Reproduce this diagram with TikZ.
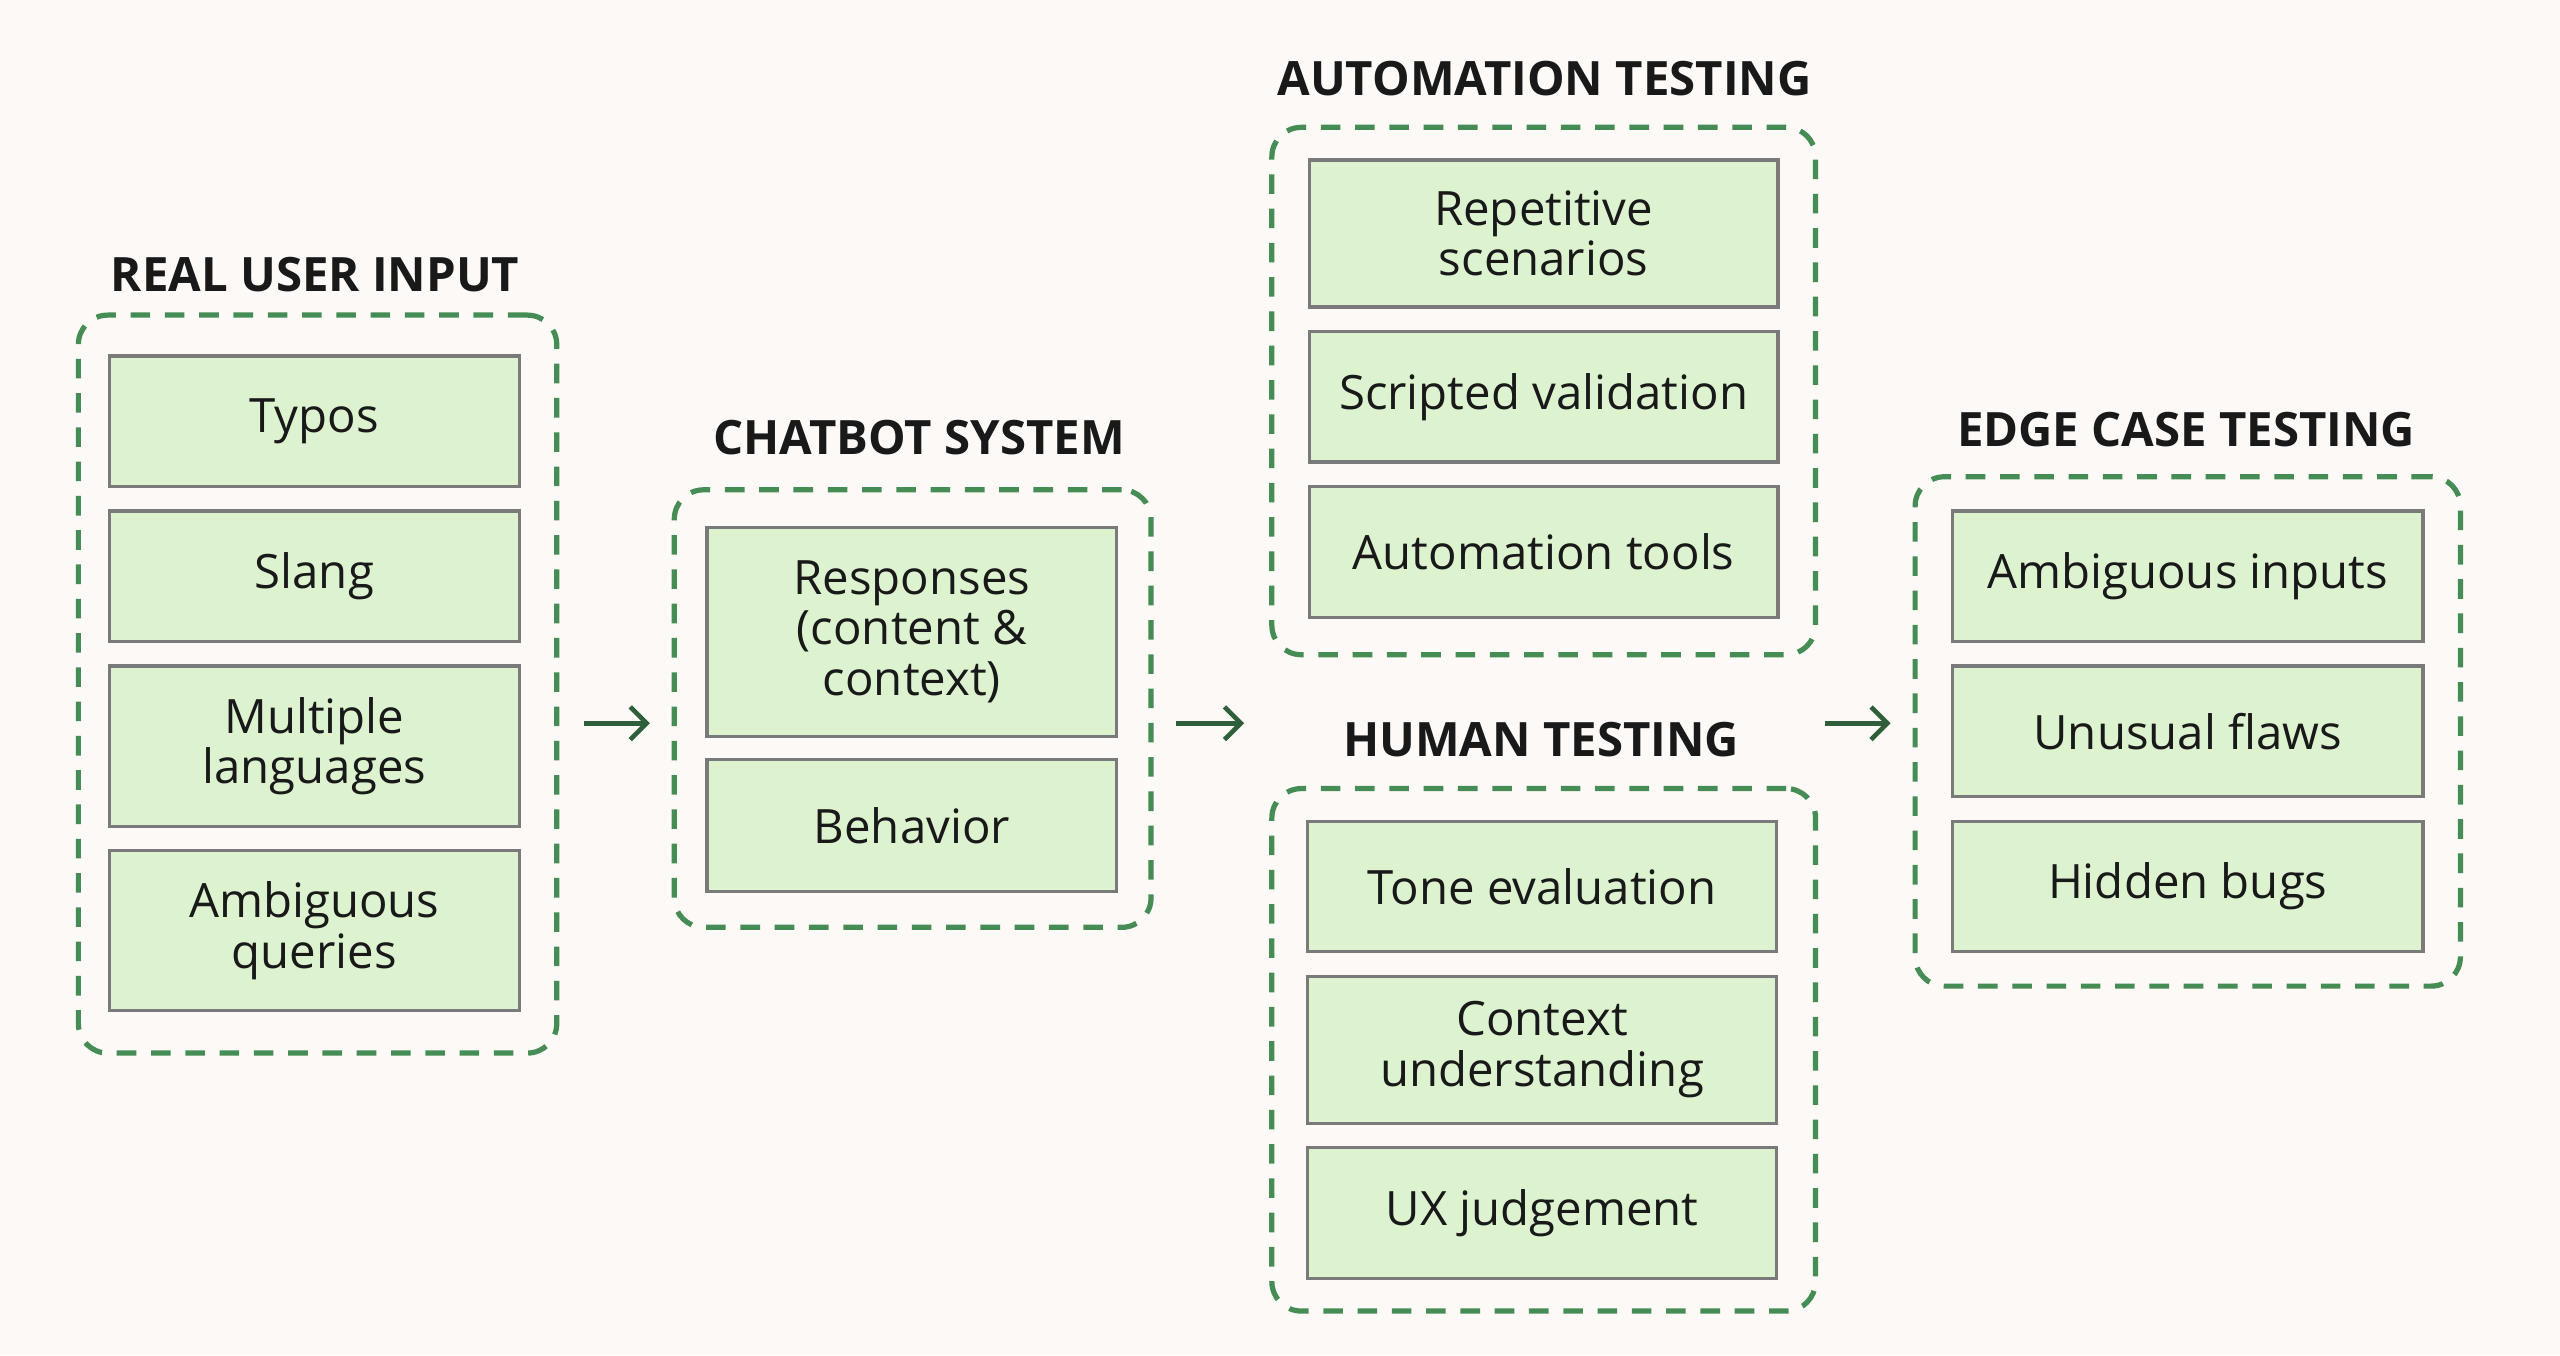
\documentclass[tikz,border=0pt]{standalone}
\usepackage{fontspec}
\setmainfont{Open Sans}
\usetikzlibrary{arrows.meta}
\definecolor{bg}{HTML}{FCF9F7}
\definecolor{boxfill}{HTML}{DDF3D0}
\definecolor{boxline}{HTML}{7A7A7A}
\definecolor{grp}{HTML}{458C55}
\definecolor{arr}{HTML}{2F5E3A}
\tikzset{
 box/.style={draw=boxline,line width=1pt,fill=boxfill,inner sep=0pt,align=center,font=\fontsize{14.5}{15.5}\selectfont\color{black!90}},
 grpbox/.style={draw=grp,line width=1.6pt,dash pattern=on 6pt off 4.5pt,rounded corners=9pt,inner sep=0pt},
 ttl/.style={font=\fontsize{14.5}{16}\selectfont\bfseries,text=black!90},
 flow/.style={draw=arr,line width=1.4pt,-{Straight Barb[length=5pt,width=10pt]}}
}
\newcommand{\bx}[6]{\node[box,minimum width={(#4-#2)*0.5pt},minimum height={(#5-#3)*0.5pt}] (#1) at ({(#2+#4)*0.25pt},{-(#3+#5)*0.25pt}) {#6};}
\newcommand{\gp}[5]{\node[grpbox,minimum width={(#4-#2)*0.5pt},minimum height={(#5-#3)*0.5pt}] (#1) at ({(#2+#4)*0.25pt},{-(#3+#5)*0.25pt}) {};}
\begin{document}
\begin{tikzpicture}
\fill[bg] (0,0) rectangle (784pt,-415pt);
\useasboundingbox (0,0) rectangle (784pt,-415pt);
% Real user input
\gp{rui}{48}{193}{341}{645}
\node[ttl] (t1) at (96.5pt,-84pt) {REAL USER INPUT};
\bx{typos}{67}{218}{318}{298}{Typos}
\bx{slang}{67}{313}{318}{393}{Slang}
\bx{multi}{67}{408}{318}{506}{Multiple\\languages}
\bx{ambq}{67}{521}{318}{619}{Ambiguous\\queries}
% Chatbot
\gp{chat}{413}{300}{705}{568}
\node[ttl] (t2) at (281.5pt,-134pt) {CHATBOT SYSTEM};
\bx{resp}{433}{323}{684}{451}{Responses\\(content \&\\context)}
\bx{beh}{433}{465}{684}{546}{Behavior}
% Automation
\gp{auto}{779}{78}{1112}{401}
\node[ttl] (t3) at (473pt,-24pt) {AUTOMATION TESTING};
\bx{rep}{802}{98}{1089}{188}{Repetitive\\scenarios}
\bx{scr}{802}{203}{1089}{283}{Scripted validation}
\bx{atools}{802}{298}{1089}{378}{Automation tools}
% Human
\gp{human}{779}{483}{1112}{803}
\node[ttl] (t4) at (472pt,-226.5pt) {HUMAN TESTING};
\bx{tone}{801}{503}{1088}{583}{Tone evaluation}
\bx{ctx}{801}{598}{1088}{688}{Context\\understanding}
\bx{ux}{801}{703}{1088}{783}{UX judgement}
% Edge
\gp{edge}{1173}{292}{1507}{604}
\node[ttl] (t5) at (669.5pt,-131.5pt) {EDGE CASE TESTING};
\bx{ambi}{1196}{313}{1484}{393}{Ambiguous inputs}
\bx{unus}{1196}{408}{1484}{488}{Unusual flaws}
\bx{hid}{1196}{503}{1484}{583}{Hidden bugs}
% arrows
\coordinate (a1s) at (179pt,-221.5pt); \coordinate (a1e) at (199pt,-221.5pt);
\coordinate (a2s) at (360pt,-221.5pt); \coordinate (a2e) at (381pt,-221.5pt);
\coordinate (a3s) at (559pt,-221.5pt); \coordinate (a3e) at (579pt,-221.5pt);
\draw[flow] (a1s) -- (a1e);
\draw[flow] (a2s) -- (a2e);
\draw[flow] (a3s) -- (a3e);
\end{tikzpicture}
\end{document}
